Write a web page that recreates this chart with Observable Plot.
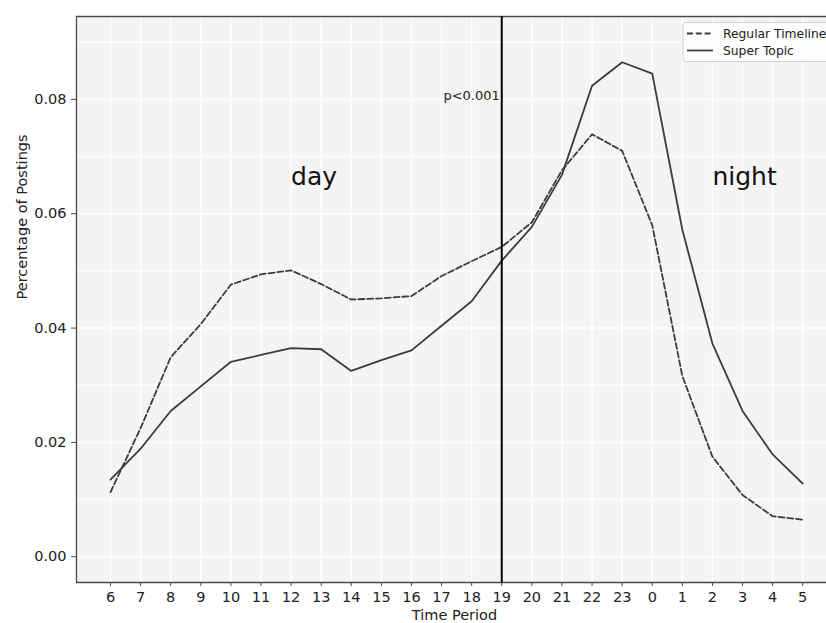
<!DOCTYPE html>
<html>
<head>
<meta charset="utf-8">
<script src="https://cdn.jsdelivr.net/npm/d3@7"></script>
<script src="https://cdn.jsdelivr.net/npm/@observablehq/plot@0.6"></script>
<style>
  body { margin: 0; background: white; }
  svg { display: block; }
</style>
</head>
<body>
<div id="chart"></div>
<script>
const hours = [6,7,8,9,10,11,12,13,14,15,16,17,18,19,20,21,22,23,0,1,2,3,4,5];
const regularTimeline = [0.0113,0.0225,0.0349,0.0407,0.0476,0.0494,0.0501,0.0477,0.0450,0.0452,0.0456,0.0491,0.0517,0.0542,0.0585,0.0676,0.0739,0.0710,0.0580,0.0316,0.0175,0.0108,0.0071,0.0065];
const superTopic = [0.0135,0.0189,0.0255,0.0298,0.0341,0.0353,0.0365,0.0363,0.0325,0.0344,0.0361,0.0404,0.0447,0.0518,0.0577,0.0668,0.0824,0.0865,0.0845,0.0572,0.0373,0.0255,0.0179,0.0128];
const yTicks = [0.00,0.02,0.04,0.06,0.08];
const yGrid = [0.00,0.01,0.02,0.03,0.04,0.05,0.06,0.07,0.08,0.09];
const seriesNames = ["Regular Timeline","Super Topic"];

const data = hours.map((h, i) => ({i, hour: h, regular: regularTimeline[i], superTopic: superTopic[i]}));
const idx = d3.range(hours.length);
const xDomain = [-1.13, 23.79];
const yDomain = [-0.0045, 0.0945];
const lineColor = "#3c3c3c";
const frameColor = "#4a4a4a";
const dash = "6,2.8";
const splitIndex = hours.indexOf(19);

const chart = Plot.plot({
  width: 826,
  height: 623,
  marginLeft: 76,
  marginRight: 0,
  marginTop: 16,
  marginBottom: 41,
  style: {fontFamily: "DejaVu Sans", fontSize: "14.5px", color: "#222", background: "white", overflow: "visible"},
  x: {type: "linear", domain: xDomain},
  y: {domain: yDomain},
  marks: [
    Plot.frame({fill: "#f4f4f4", stroke: null}),
    Plot.ruleX(idx, {stroke: "white", strokeWidth: 1.5}),
    Plot.ruleY(yGrid, {stroke: "white", strokeWidth: 1.5}),
    Plot.ruleY([yDomain[0], yDomain[1]], {stroke: frameColor, strokeWidth: 1.3}),
    Plot.ruleX([xDomain[0]], {stroke: frameColor, strokeWidth: 1.3}),
    Plot.axisX({ticks: idx, tickFormat: i => hours[i], tickSize: 4, tickPadding: 5, fontSize: 14.5, label: null, stroke: frameColor}),
    Plot.axisY({ticks: yTicks, tickFormat: d3.format(".2f"), tickSize: 5, tickPadding: 5, fontSize: 14.5, label: null, stroke: frameColor}),
    Plot.lineY(data, {x: "i", y: "regular", stroke: lineColor, strokeWidth: 1.8, strokeDasharray: dash}),
    Plot.lineY(data, {x: "i", y: "superTopic", stroke: lineColor, strokeWidth: 1.8}),
    Plot.ruleX([splitIndex], {stroke: "black", strokeWidth: 2}),
    Plot.text(["p<0.001"], {x: () => splitIndex, y: () => 0.0807, text: d => d, textAnchor: "end", dx: -2, fontSize: 13, fill: "#222"}),
    Plot.text(["day"], {x: () => hours.indexOf(12), y: () => 0.065, text: d => d, textAnchor: "start", lineAnchor: "bottom", fontSize: 25, fill: "#111"}),
    Plot.text(["night"], {x: () => hours.indexOf(2), y: () => 0.065, text: d => d, textAnchor: "start", lineAnchor: "bottom", fontSize: 25, fill: "#111"}),
    Plot.text(["Time Period"], {frameAnchor: "bottom", dy: 33, dx: 3, text: d => d, lineAnchor: "middle", fontSize: 14.5, fill: "#222"}),
    Plot.text(["Percentage of Postings"], {frameAnchor: "left", dx: -54, rotate: -90, text: d => d, lineAnchor: "middle", fontSize: 14.5, fill: "#222"})
  ]
});
document.getElementById("chart").appendChild(chart);

// legend
const svg = d3.select(chart);
const lg = svg.append("g").attr("font-family", "DejaVu Sans").attr("font-size", 12.3).attr("text-anchor", "start");
lg.append("rect").attr("x", 683).attr("y", 22.5).attr("width", 160).attr("height", 39).attr("rx", 3)
  .attr("fill", "rgba(255,255,255,0.8)").attr("stroke", "#cfcfcf");
seriesNames.forEach((name, k) => {
  const yy = 33.5 + k * 17;
  lg.append("line").attr("x1", 687).attr("x2", 713).attr("y1", yy).attr("y2", yy)
    .attr("stroke", lineColor).attr("stroke-width", 1.8)
    .attr("stroke-dasharray", k === 0 ? dash : null);
  lg.append("text").attr("x", 723).attr("y", yy).attr("dy", "0.35em").attr("fill", "#222").attr("text-anchor", "start").text(name);
});
</script>
</body>
</html>
